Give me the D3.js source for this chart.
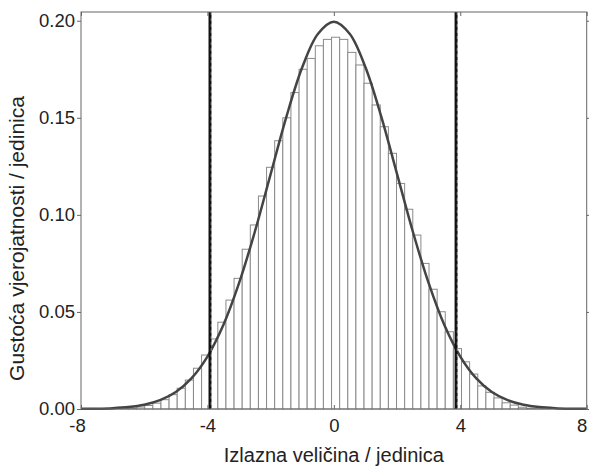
<!DOCTYPE html>
<html>
<head>
<meta charset="utf-8">
<script src="https://cdn.jsdelivr.net/npm/d3@7"></script>
<style>
  body { margin: 0; background: #fff; }
  svg text { font-family: "Liberation Sans", Arial, sans-serif; fill: #222; }
</style>
</head>
<body>
<div id="chart"></div>
<script>
// histogram bins (left edges) and bar heights
var binLeft = [-7.269, -7.012, -6.755, -6.498, -6.241, -5.984, -5.727, -5.470, -5.213, -4.956,
    -4.699, -4.442, -4.185, -3.928, -3.671, -3.414, -3.157, -2.900, -2.643, -2.386,
    -2.129, -1.872, -1.615, -1.358, -1.101, -0.844, -0.587, -0.330, -0.073, 0.184,
    0.441, 0.698, 0.955, 1.212, 1.469, 1.726, 1.983, 2.240, 2.497, 2.754,
    3.011, 3.268, 3.525, 3.782, 4.039, 4.296, 4.553, 4.810, 5.067, 5.324,
    5.581, 5.838, 6.095, 6.352, 6.609];
var binWidth = 0.257;
var binHeight = [0.0001, 0.0002, 0.0003, 0.0005, 0.0010, 0.0018, 0.0030, 0.0048, 0.0074, 0.0107,
    0.0149, 0.0210, 0.0278, 0.0361, 0.0447, 0.0561, 0.0673, 0.0823, 0.0948, 0.1097,
    0.1245, 0.1382, 0.1500, 0.1630, 0.1750, 0.1806, 0.1871, 0.1904, 0.1915, 0.1904,
    0.1837, 0.1772, 0.1678, 0.1566, 0.1454, 0.1317, 0.1162, 0.1029, 0.0896, 0.0750,
    0.0617, 0.0501, 0.0398, 0.0311, 0.0243, 0.0180, 0.0119, 0.0086, 0.0057, 0.0032,
    0.0020, 0.0009, 0.0004, 0.0002, 0.0001];

// density curve read at x = -8..8
var curveX = [-8, -7.5, -7, -6.5, -6, -5.5, -5, -4.5, -4, -3.5, -3, -2.5, -2, -1.5, -1, -0.5, 0,
    0.5, 1, 1.5, 2, 2.5, 3, 3.5, 4, 4.5, 5, 5.5, 6, 6.5, 7, 7.5, 8];
var curveY = [0.00007, 0.00018, 0.00044, 0.00102, 0.00222, 0.00455, 0.00876, 0.0159, 0.0270, 0.0431,
    0.0648, 0.0913, 0.1210, 0.1506, 0.1760, 0.1933, 0.1995,
    0.1933, 0.1760, 0.1506, 0.1210, 0.0913, 0.0648, 0.0431, 0.0270, 0.0159, 0.00876,
    0.00455, 0.00222, 0.00102, 0.00044, 0.00018, 0.00007];

// interval bounds (vertical lines)
var bounds = [-3.918, 3.867];

var xTicks = [-8, -4, 0, 4, 8];
var yTicks = [0, 0.05, 0.10, 0.15, 0.20];

var margin = {top: 12, right: 2.3, bottom: 58, left: 81};
var W = 589, H = 467;
var width = W - margin.left - margin.right;
var height = H - margin.top - margin.bottom;

var svg = d3.select("#chart").append("svg")
    .attr("width", W)
    .attr("height", H);

var g = svg.append("g")
    .attr("transform", `translate(${margin.left},${margin.top})`);

var x = d3.scaleLinear().domain([-8, 8]).range([0, width]);
var y = d3.scaleLinear().domain([0, 0.2045]).range([height, 0]);

// bars
g.selectAll("rect.bar")
    .data(binLeft)
    .enter()
    .append("rect")
    .attr("class", "bar")
    .attr("x", d => x(d))
    .attr("width", d => x(d + binWidth) - x(d))
    .attr("y", (d, i) => y(binHeight[i]))
    .attr("height", (d, i) => y(0) - y(binHeight[i]))
    .attr("fill", "#fff")
    .attr("stroke", "#8a8a8a")
    .attr("stroke-width", 1);

// curve
var line = d3.line()
    .x((d, i) => x(curveX[i]))
    .y(d => y(d))
    .curve(d3.curveCatmullRom);

g.append("path")
    .datum(curveY)
    .attr("d", line)
    .attr("fill", "none")
    .attr("stroke", "#444")
    .attr("stroke-width", 2.5);

// vertical bound lines
bounds.forEach(function(b) {
    g.append("line")
        .attr("x1", x(b)).attr("x2", x(b))
        .attr("y1", 0).attr("y2", height)
        .attr("stroke", "#111")
        .attr("stroke-width", 3);
    g.append("line")
        .attr("x1", x(b) + 1.2).attr("x2", x(b) + 1.2)
        .attr("y1", 0).attr("y2", height)
        .attr("stroke", "#ddd")
        .attr("stroke-width", 0.6)
        .attr("stroke-dasharray", "3,3");
});

// axes
var fmt = d3.format(".2f");

var yAxis = g.append("g")
    .call(d3.axisLeft(y).tickValues(yTicks).tickFormat(fmt).tickSize(4).tickPadding(2));
var yAxisR = g.append("g")
    .attr("transform", `translate(${width},0)`)
    .call(d3.axisLeft(y).tickValues(yTicks).tickFormat("").tickSize(-4));
var xAxis = g.append("g")
    .attr("transform", `translate(0,${height})`)
    .call(d3.axisBottom(x).tickValues(xTicks).tickFormat(d3.format("d")).tickSize(-4).tickPadding(10));
var xAxisT = g.append("g")
    .call(d3.axisBottom(x).tickValues(xTicks).tickFormat("").tickSize(4));

[yAxis, yAxisR, xAxis, xAxisT].forEach(function(a) {
    a.select(".domain").remove();
    a.selectAll("line").attr("stroke", "#666");
    a.selectAll("text").style("font-size", "18.5px").attr("fill", "#222");
});
xAxis.selectAll("text")
    .text(d => d < 0 ? "-" + Math.abs(d) : d)
    .attr("text-anchor", d => d === 8 ? "end" : "middle")
    .attr("dx", d => d === 8 ? "0" : d === -8 ? "-4" : "0");

// frame
g.append("rect")
    .attr("width", width)
    .attr("height", height)
    .attr("fill", "none")
    .attr("stroke", "#666")
    .attr("stroke-width", 1);

// labels
svg.append("text")
    .attr("x", margin.left + x(0))
    .attr("y", 462)
    .attr("text-anchor", "middle")
    .style("font-size", "20px")
    .text("Izlazna veličina / jedinica");

svg.append("text")
    .attr("transform", `translate(24,${margin.top + height / 2 + 28}) rotate(-90)`)
    .attr("text-anchor", "middle")
    .style("font-size", "21px")
    .text("Gustoća vjerojatnosti / jedinica");
</script>
</body>
</html>
